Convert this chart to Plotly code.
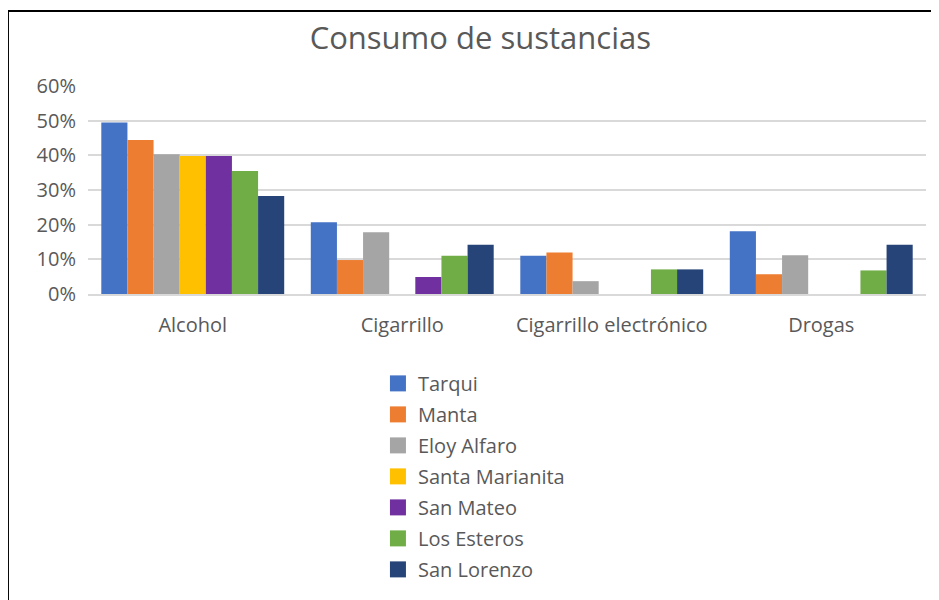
import plotly.graph_objects as go

categorias = ["Alcohol", "Cigarrillo", "Cigarrillo electrónico", "Drogas"]
tarqui = [0.495, 0.207, 0.110, 0.181]
manta = [0.444, 0.098, 0.120, 0.057]
eloy_alfaro = [0.403, 0.178, 0.037, 0.112]
santa_marianita = [0.398, 0, 0, 0]
san_mateo = [0.398, 0.049, 0, 0]
los_esteros = [0.355, 0.110, 0.071, 0.068]
san_lorenzo = [0.283, 0.142, 0.071, 0.142]

series = [
    ("Tarqui", tarqui, "#4472C4"),
    ("Manta", manta, "#ED7D31"),
    ("Eloy Alfaro", eloy_alfaro, "#A5A5A5"),
    ("Santa Marianita", santa_marianita, "#FFC000"),
    ("San Mateo", san_mateo, "#7030A0"),
    ("Los Esteros", los_esteros, "#70AD47"),
    ("San Lorenzo", san_lorenzo, "#264478"),
]

gris = "#595959"
fig = go.Figure()
for nombre, valores, color in series:
    fig.add_trace(go.Bar(x=categorias, y=valores, name=nombre,
                         marker=dict(color=color, line=dict(width=0)),
                         showlegend=False))
# legend entries with bigger square swatches
for nombre, valores, color in series:
    fig.add_trace(go.Scatter(x=[None], y=[None], mode="markers", name=nombre,
                             marker=dict(symbol="square", size=21, color=color),
                             legendgroup=nombre))

# page body adds an 8px offset, margins take it into account
fig.update_layout(
    width=939, height=600,
    margin=dict(l=80, r=21, t=78, b=314, autoexpand=False),
    paper_bgcolor="white", plot_bgcolor="white",
    font=dict(family="Open Sans", color=gris, size=20),
    title=dict(text="Consumo de sustancias", x=0.503, xanchor="center",
               y=0.949, yanchor="middle", font=dict(size=31, color=gris)),
    barmode="group", bargap=0.127, bargroupgap=0,
    legend=dict(orientation="v", x=0.346, xanchor="left", y=-0.336, yanchor="top",
                font=dict(size=20, color=gris), tracegroupgap=2,
                itemwidth=30),
    shapes=[
        dict(type="line", xref="paper", yref="paper", x0=-0.0955, x1=1.05,
             y0=1.3606, y1=1.3606, line=dict(color="black", width=2)),
        dict(type="line", xref="paper", yref="paper", x0=-0.0955, x1=-0.0955,
             y0=1.3606, y1=-1.5, line=dict(color="black", width=2)),
    ],
)
fig.update_yaxes(range=[0, 0.6], dtick=0.1, tickformat=".0%",
                 gridcolor="#D9D9D9", gridwidth=1.5, zeroline=False,
                 showline=False, ticks="outside", ticklen=7, tickcolor="white",
                 tickfont=dict(size=20, color=gris), automargin=False)
fig.update_xaxes(showline=True, linecolor="#D9D9D9", linewidth=1.5,
                 ticks="outside", ticklen=12, tickcolor="white",
                 tickfont=dict(size=20, color=gris), automargin=False)

fig.write_html("out.html")
